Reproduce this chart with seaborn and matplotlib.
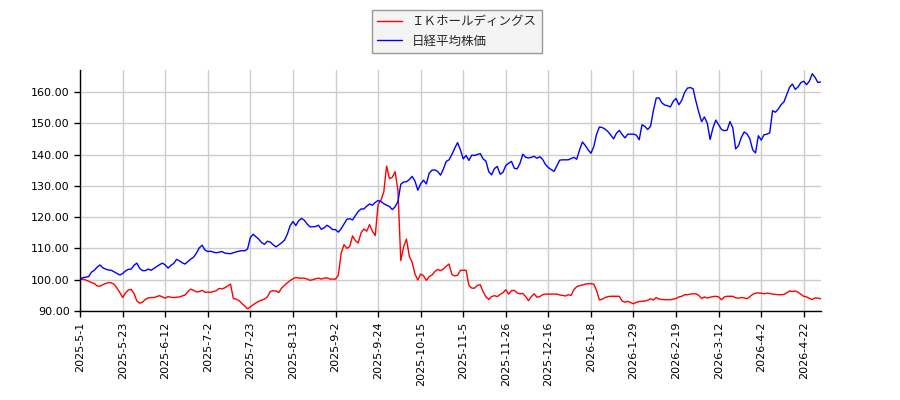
import matplotlib
matplotlib.use("Agg")
import matplotlib.pyplot as plt
import seaborn as sns
import pandas as pd

# ------------------------------------------------------
# Data (relative price index, first trading day = 100)
# ------------------------------------------------------
stock_name = "ＩＫホールディングス"
index_name = "日経平均株価"

tick_labels = ["2025-5-1", "2025-5-23", "2025-6-12", "2025-7-2", "2025-7-23",
               "2025-8-13", "2025-9-2", "2025-9-24", "2025-10-15", "2025-11-5",
               "2025-11-26", "2025-12-16", "2026-1-8", "2026-1-29", "2026-2-19",
               "2026-3-12", "2026-4-2", "2026-4-22"]

ik_values = [
    100.0, 100.2, 99.9, 99.5, 99.1, 98.8, 98.0, 97.9, 98.4, 98.8,
    99.1, 99.0, 98.5, 97.3, 95.9, 94.3, 95.8, 96.7, 96.9, 95.6,
    93.2, 92.5, 92.8, 93.7, 94.2, 94.3, 94.3, 94.6, 94.9, 94.5,
    94.1, 94.6, 94.4, 94.3, 94.4, 94.5, 94.8, 95.1, 96.2, 97.0,
    96.6, 96.1, 96.2, 96.6, 96.0, 96.0, 96.0, 96.2, 96.5, 97.2,
    97.1, 97.4, 98.0, 98.6, 94.0, 93.8, 93.3, 92.4, 91.6, 90.7,
    91.3, 92.0, 92.6, 93.1, 93.5, 93.8, 94.5, 96.2, 96.5, 96.4,
    95.9, 97.3, 98.2, 99.0, 99.7, 100.3, 100.7, 100.5, 100.5, 100.5,
    100.2, 99.8, 100.0, 100.3, 100.5, 100.2, 100.5, 100.6, 100.2, 100.2,
    100.2, 101.5, 108.5, 111.2, 110.0, 110.6, 114.0, 112.5, 111.7, 115.0,
    116.2, 115.5, 117.6, 115.5, 114.1, 124.0, 125.4, 128.0, 136.3, 132.3,
    132.7, 134.5, 128.5, 106.1, 110.5, 113.0, 107.5, 105.6, 101.8, 99.9,
    101.8, 101.3, 99.8, 101.0, 101.5, 102.6, 103.3, 102.9, 103.4, 104.3,
    105.0, 101.7, 101.2, 101.4, 103.0, 103.0, 103.0, 98.2, 97.3, 97.3,
    98.2, 98.4, 96.2, 94.5, 93.7, 94.6, 94.9, 94.6, 95.3, 95.8,
    96.8, 95.4, 96.5, 96.6, 95.8, 95.5, 95.6, 94.6, 93.3, 94.6,
    95.5, 94.4, 94.6, 95.2, 95.4, 95.4, 95.4, 95.4, 95.4, 95.1,
    95.0, 94.8, 95.2, 95.0, 96.8, 97.8, 98.1, 98.3, 98.6, 98.7,
    98.7, 98.6, 96.5, 93.5, 93.8, 94.3, 94.6, 94.7, 94.7, 94.7,
    94.7, 93.2, 92.8, 93.1, 92.7, 92.3, 92.8, 93.0, 93.1, 93.2,
    93.4, 93.9, 93.5, 94.3, 93.8, 93.7, 93.6, 93.6, 93.6, 93.8,
    94.0, 94.5, 94.7, 95.2, 95.2, 95.4, 95.5, 95.5, 95.0, 94.0,
    94.5, 94.1, 94.4, 94.6, 94.7, 94.5, 93.6, 94.5, 94.7, 94.7,
    94.7, 94.2, 94.1, 94.3, 94.2, 93.9, 94.6, 95.3, 95.7, 95.8,
    95.7, 95.5, 95.7, 95.6, 95.4, 95.3, 95.2, 95.2, 95.3, 95.8,
    96.4, 96.2, 96.4, 96.0, 95.3, 94.7, 94.5, 94.0, 93.7, 94.2,
    94.1, 93.9,
]

nikkei_values = [
    100.0, 100.7, 100.8, 101.0, 102.4, 103.0, 104.0, 104.7, 103.8, 103.4,
    103.1, 103.0, 102.5, 102.0, 101.5, 102.0, 102.8, 103.3, 103.4, 104.6,
    105.3, 103.6, 102.9, 102.9, 103.4, 103.0, 103.6, 104.2, 104.8, 105.3,
    104.7, 103.7, 104.6, 105.2, 106.5, 106.0, 105.4, 105.0, 105.8, 106.6,
    107.2, 108.5, 110.2, 111.0, 109.5, 109.0, 109.1, 108.8, 108.6, 108.8,
    109.0, 108.5, 108.4, 108.3, 108.6, 108.9, 109.1, 109.3, 109.2, 109.8,
    113.5, 114.5, 113.7, 112.9, 111.8, 111.3, 112.3, 112.0, 111.2, 110.5,
    111.1, 111.8, 112.6, 114.5, 117.2, 118.6, 117.3, 118.8, 119.6, 119.0,
    117.8, 116.9, 116.9, 117.0, 117.4, 116.1, 116.6, 117.4, 116.8, 116.0,
    116.0, 115.2, 116.3, 117.8, 119.3, 119.5, 119.1, 120.5, 121.8, 122.6,
    122.6, 123.5, 124.2, 123.8, 124.7, 125.3, 125.0, 124.3, 123.8, 123.4,
    122.4, 123.3, 125.0, 130.5, 131.2, 131.3, 132.0, 133.0, 131.5, 128.6,
    130.6, 131.8, 130.6, 134.0, 135.0, 135.1, 134.6, 133.4, 135.3, 137.8,
    138.3, 140.0, 142.0, 143.8, 141.5, 138.6, 139.7, 138.1, 139.8, 139.7,
    140.0, 140.3, 138.6, 137.9, 134.5, 133.5, 135.5, 136.2, 133.7, 134.3,
    136.5, 137.2, 137.8, 135.6, 135.4, 137.2, 140.1, 139.1, 138.9, 139.1,
    139.4, 138.8, 139.3, 138.4, 136.8, 135.8, 135.2, 134.6, 136.4, 138.2,
    138.3, 138.3, 138.3, 138.7, 139.1, 138.5, 141.5, 144.0, 142.9, 141.5,
    140.4, 142.5, 146.5, 148.8, 148.6, 148.1, 147.3, 146.2, 145.0, 146.8,
    147.7, 146.4, 145.3, 146.5, 146.5, 146.5, 146.2, 144.7, 149.5, 149.0,
    148.0, 149.0, 154.0, 158.0, 158.1, 156.5, 155.8, 155.6, 155.2, 157.0,
    157.9, 155.9, 157.3, 159.8, 161.2, 161.4, 161.0, 157.0, 153.5, 150.5,
    152.0, 150.0, 144.8, 148.5, 151.0, 149.5, 148.0, 147.6, 147.8, 150.5,
    148.5, 141.8, 142.8, 145.5, 147.2, 146.6, 145.0, 141.5, 140.5, 146.0,
    144.6, 146.3, 146.5, 146.9, 154.0, 153.5, 154.5, 155.9, 156.8, 159.2,
    161.5, 162.5, 160.8, 161.6, 163.0, 163.4, 162.3, 163.5, 165.8, 164.6,
    163.0, 163.2,
]

df_ik = pd.DataFrame({"day": range(len(ik_values)), "value": ik_values})
df_nk = pd.DataFrame({"day": range(len(nikkei_values)), "value": nikkei_values})

# ------------------------------------------------------
# Plot
# ------------------------------------------------------
sns.set_theme(style="ticks")
plt.rcParams["font.family"] = ["DejaVu Sans", "Noto Sans CJK JP"]

fig = plt.figure(figsize=(9, 4), dpi=100)
ax = fig.add_axes([0.089, 0.2225, 0.823, 0.6025])

sns.lineplot(data=df_ik, x="day", y="value", color="red", linewidth=1,
             label=stock_name, ax=ax)
sns.lineplot(data=df_nk, x="day", y="value", color="blue", linewidth=1,
             label=index_name, ax=ax)

n_days = max(len(ik_values), len(nikkei_values))
ax.set_xlim(0, n_days - 1)
ax.set_ylim(90, 167)
ax.set_xticks(range(0, 15 * len(tick_labels), 15))
ax.set_xticklabels(tick_labels, rotation=90, fontsize=8)
ax.set_yticks(range(90, 161, 10))
ax.set_yticklabels([f"{v:.2f}" for v in range(90, 161, 10)], fontsize=8)
ax.set_xlabel("")
ax.set_ylabel("")
ax.grid(True, color="#cccccc", linewidth=1)
ax.tick_params(direction="out", length=4, width=1, colors="black")
for side in ["left", "bottom"]:
    ax.spines[side].set_color("black")
    ax.spines[side].set_linewidth(1)
sns.despine(ax=ax)

ax.get_legend().remove()
handles, labels = ax.get_legend_handles_labels()
leg = fig.legend(handles, labels, loc="upper center", bbox_to_anchor=(0.508, 0.99),
                 fontsize=9, frameon=True, fancybox=False, handlelength=2.0)
leg.get_frame().set_facecolor("#f2f2f2")
leg.get_frame().set_edgecolor("#808080")

fig.savefig("out.png", dpi=100)
